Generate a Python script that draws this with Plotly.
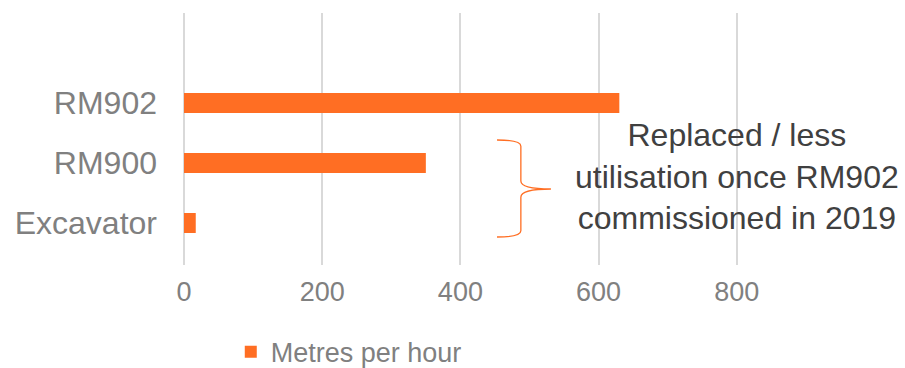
import plotly.graph_objects as go

# Drilling rate by machine
machines = ["Excavator", "RM900", "RM902"]
metres_per_hour = [17, 350, 630]
x_ticks = [0, 200, 400, 600, 800]

note_text = "Replaced / less<br>utilisation once RM902<br>commissioned in 2019"

ORANGE = "#FF6E23"
GRID = "#D9D9D9"
TICK_GREY = "#808080"

fig = go.Figure()
fig.add_trace(go.Bar(
    y=machines,
    x=metres_per_hour,
    orientation="h",
    name="Metres per hour",
    marker=dict(color=ORANGE, line=dict(width=0)),
    width=0.333,
))

# Curly bracket grouping RM900 and Excavator
bracket = (
    "M 453,1.383 Q 487.5,1.383 487.5,1.28 "
    "L 487.5,0.70 Q 487.5,0.567 531,0.567 "
    "Q 487.5,0.567 487.5,0.43 "
    "L 487.5,-0.13 Q 487.5,-0.233 453,-0.233"
)
fig.add_shape(type="path", path=bracket, xref="x", yref="y",
              line=dict(color=ORANGE, width=1.3))

fig.add_annotation(
    x=800, y=0.767, xref="x", yref="y",
    text=note_text, showarrow=False,
    font=dict(family="Liberation Sans, Arial", size=32, color="#404040"),
    align="center", xanchor="center", yanchor="middle",
)

fig.update_layout(
    width=905, height=368,
    margin=dict(l=184, r=30, t=13, b=103, autoexpand=False),
    plot_bgcolor="white", paper_bgcolor="white",
    bargap=0.667,
    showlegend=True,
    legend=dict(
        orientation="h", xref="container", yref="container",
        x=0.255, y=0.043, xanchor="left", yanchor="middle",
        font=dict(family="Liberation Sans, Arial", size=27, color=TICK_GREY),
        itemwidth=30, bgcolor="rgba(0,0,0,0)",
    ),
    xaxis=dict(
        range=[0, 1000], tickvals=x_ticks,
        showgrid=True, gridcolor=GRID, gridwidth=2,
        zeroline=True, zerolinecolor=GRID, zerolinewidth=2,
        showline=False, ticks="",
        tickfont=dict(family="Liberation Sans, Arial", size=27, color=TICK_GREY),
        ticklabelstandoff=8,
        fixedrange=True,
    ),
    yaxis=dict(
        type="category", categoryorder="array", categoryarray=machines,
        range=[-0.7, 3.5],
        showgrid=False, showline=False, ticks="",
        tickfont=dict(family="Liberation Sans, Arial", size=32, color=TICK_GREY),
        ticklabelstandoff=26,
        fixedrange=True,
    ),
)

fig.write_html("out.html")
